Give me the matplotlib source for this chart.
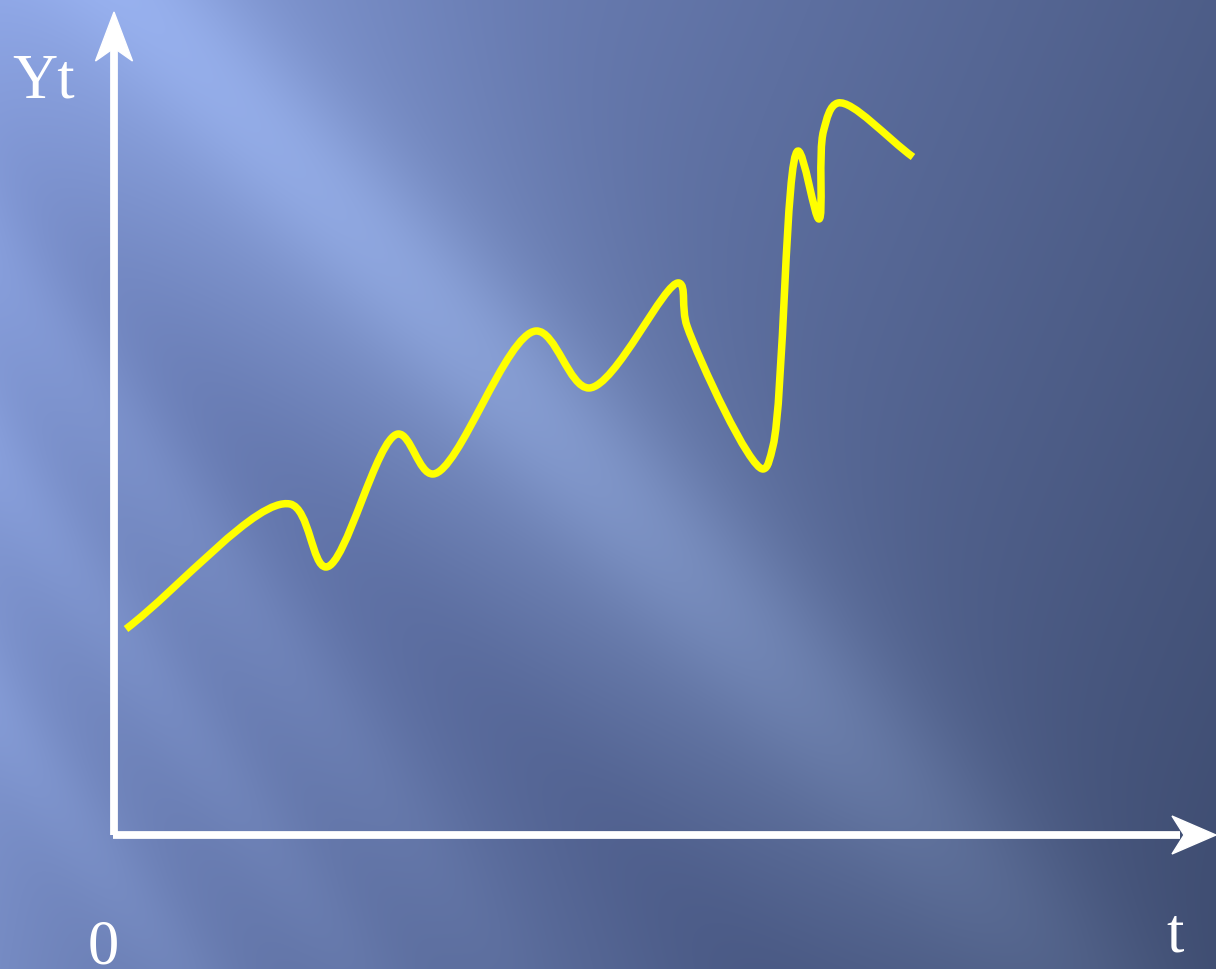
import numpy as np
import matplotlib
matplotlib.use("Agg")
import matplotlib.pyplot as plt
from matplotlib.path import Path
from matplotlib.patches import PathPatch, Polygon

# Time axis and series values (knots of the smooth curve)
t_vals = [1.2, 17.6, 21.2, 28.4, 31.9, 42.2, 47.5, 56.5, 57.3,
          64.9, 65.9, 68.4, 70.5, 70.95, 72.4, 79.9]
y_vals = [20.6, 33.1, 26.8, 40.1, 36.1, 50.4, 44.7, 55.2, 50.9,
          36.6, 38.9, 68.4, 61.6, 70.4, 73.2, 67.8]

x_label = "t"
y_label = "Yt"
origin_label = "0"

W, H, DPI = 1216, 970, 100
fig = plt.figure(figsize=(W / DPI, H / DPI), dpi=DPI)

# ---- background: blue gradient with soft diagonal light streaks ----
bg = fig.add_axes([0, 0, 1, 1])
bg.set_axis_off()
yy, xx = np.mgrid[0:H, 0:W].astype(float)
s = np.clip(0.75 * xx / W + 0.25 * yy / H, 0, 1)
c0 = np.array([124, 146, 208.0])
c1 = np.array([62, 76, 112.0])
img = c0[None, None, :] * (1 - s[..., None]) + c1[None, None, :] * s[..., None]


def band(slope, offset, sigma, amp, centre, spread):
    u = (yy - slope * xx - offset) / np.sqrt(1 + slope ** 2)
    along = (xx + slope * yy) / np.sqrt(1 + slope ** 2)
    return (amp * np.exp(-0.5 * (u / sigma) ** 2)
            * np.exp(-0.5 * ((along - centre) / spread) ** 2))


glow = (band(1.05, -150, 55, 30, 450, 650)      # main light streak
        + band(1.05, -40, 90, 12, 500, 650)     # its softer lower flank
        + band(1.05, 190, 60, -9, 700, 900)     # darker trough beside it
        + band(1.4, 260, 35, 11, 350, 500)
        + band(1.4, 470, 30, 11, 450, 500)
        + band(1.4, 720, 30, 11, 600, 500)
        + band(1.3, -420, 80, 8, 500, 700))
# soft light along the left edge
glow += 11 * np.exp(-xx / 130.0)
img = img + glow[..., None] * np.array([0.85, 0.95, 1.0])[None, None, :]
img = np.clip(img, 0, 255) / 255.0
bg.imshow(img, extent=[0, 1, 0, 1], aspect="auto", origin="upper")
bg.set_xlim(0, 1)
bg.set_ylim(0, 1)

# ---- main axes: origin at the corner of the two arrows ----
ox, oy = 114, 836
scale = 10.0  # pixels per data unit
x_max = (W - ox) / scale
y_max = (oy - 0) / scale
ax = fig.add_axes([ox / W, (H - oy) / H, (W - ox) / W, oy / H])
ax.set_xlim(0, x_max)
ax.set_ylim(0, y_max)
ax.set_axis_off()
ax.patch.set_alpha(0)

# axis shafts
ax.plot([0, 0], [0, y_max - 4.6], color="white", lw=5.6,
        solid_capstyle="butt", clip_on=False)
ax.plot([-0.1, x_max - 3.6], [0, 0], color="white", lw=5.6,
        solid_capstyle="butt", clip_on=False)

# arrow heads (stealth shape)
tip_y = y_max - 1.3
ax.add_patch(Polygon([[0, tip_y], [-1.85, tip_y - 4.9], [0, tip_y - 3.6],
                      [1.85, tip_y - 4.9]], closed=True, color="white",
                     clip_on=False))
tip_x = x_max
ax.add_patch(Polygon([[tip_x, 0], [tip_x - 4.4, 1.9], [tip_x - 3.2, 0],
                      [tip_x - 4.4, -1.9]], closed=True, color="white",
                     clip_on=False))


# ---- smooth curve through the knots (centripetal Catmull-Rom as Bezier) ----
def catmull_rom_path(xs, ys):
    P = np.column_stack([xs, ys]).astype(float)
    P = np.vstack([2 * P[0] - P[1], P, 2 * P[-1] - P[-2]])
    verts = [P[1]]
    codes = [Path.MOVETO]
    for i in range(1, len(P) - 2):
        p0, p1, p2, p3 = P[i - 1], P[i], P[i + 1], P[i + 2]
        d1 = max(np.linalg.norm(p1 - p0), 1e-6)
        d2 = max(np.linalg.norm(p2 - p1), 1e-6)
        d3 = max(np.linalg.norm(p3 - p2), 1e-6)
        a1, a2, a3 = np.sqrt(d1), np.sqrt(d2), np.sqrt(d3)
        b1 = (d1 * p2 - d2 * p0 + (2 * d1 + 3 * a1 * a2 + d2) * p1) / (3 * a1 * (a1 + a2))
        b2 = (d3 * p1 - d2 * p3 + (2 * d3 + 3 * a3 * a2 + d2) * p2) / (3 * a3 * (a3 + a2))
        verts += [b1, b2, p2]
        codes += [Path.CURVE4] * 3
    return Path(verts, codes)


curve = PathPatch(catmull_rom_path(t_vals, y_vals), facecolor="none",
                  edgecolor="#ffff00", lw=5.4, capstyle="butt",
                  joinstyle="round", clip_on=False)
ax.add_patch(curve)

# ---- labels ----
serif = ["Liberation Serif", "DejaVu Serif"]
fig.text(12 / W, 1 - 97 / H, y_label, color="white", fontsize=45,
         family=serif, ha="left", va="baseline")
fig.text(1166 / W, 1 - 952 / H, x_label, color="white", fontsize=45,
         family=serif, ha="left", va="baseline")
fig.text(88 / W, 1 - 964 / H, origin_label, color="white", fontsize=45,
         family=serif, ha="left", va="baseline")

fig.savefig("out.png", dpi=DPI)
